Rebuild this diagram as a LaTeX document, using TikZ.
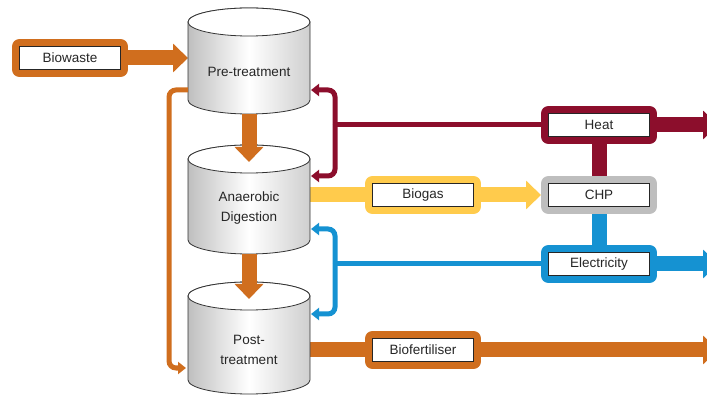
\documentclass[tikz,border=0pt]{standalone}
\usepackage{fontspec}
\setmainfont{Liberation Sans}
\usetikzlibrary{arrows.meta, backgrounds}
\definecolor{flowOrange}{HTML}{D06E1E}
\definecolor{heatRed}{HTML}{8C0E2C}
\definecolor{biogasYellow}{HTML}{FFCB4C}
\definecolor{elecBlue}{HTML}{1592D2}
\definecolor{chpGray}{HTML}{BEBEBE}

\begin{document}
\begin{tikzpicture}[x=1pt, y=-1pt,
    every node/.style={font=\fontsize{13.5}{20}\selectfont, text=black!85},
    tank/.style={rectangle, minimum width=122pt, inner sep=0pt, outer sep=0pt},
    tankbody/.style={draw=black!80, line width=0.8pt, left color=gray!50, right color=gray!38, middle color=white},
    tankend/.style={fill=white, draw=black!80, line width=0.8pt},
    tanktext/.style={align=center},
    flowbox/.style={rectangle, draw=black!85, line width=0.9pt, fill=white, minimum width=101pt,
        minimum height=23pt, inner sep=0pt, outer sep=7.5pt,
        preaction={draw=#1, line width=15pt, line join=round}},
    flowline/.style={draw=#1, line width=15pt},
    flow/.style={draw=#1, line width=15pt, -{Triangle[width=28pt,length=15pt]}},
    thinflow/.style={draw=#1, line width=5pt, rounded corners=7pt, -{Triangle[width=12pt,length=8pt]}},
    thinline/.style={draw=#1, line width=5pt}
]
    \useasboundingbox (0,0) rectangle (707,395);
    \clip (0,0) rectangle (707,395);

    % Process tanks
    \node[tank, minimum height=106pt] (pre) at (249,61) {};
    \node[tank, minimum height=109pt] (anaer) at (249,199.5) {};
    \node[tank, minimum height=112pt] (post) at (249,338) {};
    \foreach \t in {pre,anaer,post} {
        \shade[tankbody] ([yshift=-14pt]\t.north west) -- ([yshift=14pt]\t.south west)
            arc[start angle=180, end angle=0, x radius=61, y radius=14]
            -- ([yshift=-14pt]\t.north east)
            arc[start angle=0, end angle=-180, x radius=61, y radius=14] -- cycle;
        \filldraw[tankend] ([yshift=-14pt]\t.north) ellipse [x radius=61, y radius=14];
    }
    \node[tanktext] (pretext) at (249,72) {Pre-treatment};
    \node[tanktext] (anaertext) at (249,208) {Anaerobic\\Digestion};
    \node[tanktext] (posttext) at (249,350) {Post-\\treatment};

    % Streams
    \node[flowbox=flowOrange] (biowaste) at (70,58) {Biowaste};
    \node[flowbox=biogasYellow] (biogas) at (423,195) {Biogas};
    \node[flowbox=flowOrange] (biofert) at (423,350) {Biofertiliser};

    % CHP and its products
    \node[flowbox=chpGray] (chp) at (599,195) {CHP};
    \node[flowbox=heatRed] (heat) at (599,125) {Heat};
    \node[flowbox=elecBlue] (elec) at (599,264) {Electricity};

    % Free ends
    \coordinate (heatout) at (718,125);
    \coordinate (elecout) at (718,264);
    \coordinate (fertout) at (718,350);
    \coordinate (heatsplit) at (335,125);
    \coordinate (heatpre) at (311,90);
    \coordinate (heatanaer) at (311,176);
    \coordinate (elecsplit) at (335,264);
    \coordinate (elecanaer) at (311,229);
    \coordinate (elecpost) at (311,314);
    \coordinate (loopstart) at (188,90);
    \coordinate (loopend) at (186,368);

    % Main flows
    \begin{scope}[on background layer]
        \draw[flow=flowOrange] (biowaste) -- (pre.west |- biowaste);
        \draw[flowline=biogasYellow] (anaer.east |- biogas) -- (biogas);
        \draw[flow=biogasYellow] (biogas) -- (chp);
        \draw[flowline=heatRed] (heat) -- (chp);
        \draw[flowline=elecBlue] (elec) -- (chp);
        \draw[flow=heatRed] (heat) -- (heatout);
        \draw[flow=elecBlue] (elec) -- (elecout);
        \draw[flowline=flowOrange] (post.east |- biofert) -- (biofert);
        \draw[flow=flowOrange] (biofert) -- (fertout);
    \end{scope}
    \draw[flow=flowOrange] (pre.south) -- ([yshift=-17pt]anaer.north);
    \draw[flow=flowOrange] (anaer.south) -- ([yshift=-17pt]post.north);

    % Heat and electricity back to the tanks
    \draw[thinline=heatRed] (heat) -- (heatsplit);
    \draw[thinflow=heatRed] (heatsplit) |- (heatpre);
    \draw[thinflow=heatRed] (heatsplit) |- (heatanaer);
    \draw[thinline=elecBlue] (elec) -- (elecsplit);
    \draw[thinflow=elecBlue] (elecsplit) |- (elecanaer);
    \draw[thinflow=elecBlue] (elecsplit) |- (elecpost);

    % Recirculation
    \draw[thinflow=flowOrange] (loopstart) -- ++(-19,0) |- (loopend);
\end{tikzpicture}
\end{document}
